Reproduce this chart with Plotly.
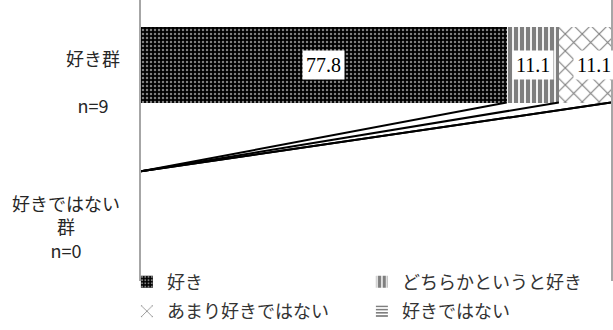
import plotly.graph_objects as go

# data
groups = ["好き群", "好きではない群"]
group_labels = ["好き群<br><br>n=9", "好きではない<br>群<br>n=0"]
series = ["好き", "どちらかというと好き", "あまり好きではない", "好きではない"]
like = [77.8, 0]
rather_like = [11.1, 0]
not_much = [11.1, 0]
dislike = [0, 0]

values = [like, rather_like, not_much, dislike]
patterns = [
    dict(shape=".", fgcolor="white", bgcolor="black", size=4, solidity=0.3),
    dict(shape="|", fgcolor="black", bgcolor="white", size=6, solidity=0.7),
    dict(shape="x", fgcolor="black", bgcolor="white", size=12, solidity=0.18),
    dict(shape="-", fgcolor="black", bgcolor="white", size=4, solidity=0.5),
]
legend_ids = ["legend", "legend", "legend2", "legend2"]

pos = list(range(len(groups)))
bar_w = 0.524

fig = go.Figure()

for name, vals, pat, lg in zip(series, values, patterns, legend_ids):
    fig.add_trace(go.Bar(
        y=pos, x=vals, name=name, orientation="h", width=bar_w,
        marker=dict(color="white", pattern=pat, line=dict(width=0)),
        legend=lg, hoverinfo="x+name",
    ))

# series lines between the two bars
cum = [[0] * len(series) for _ in groups]
for g in range(len(groups)):
    s = 0
    for i in range(len(series)):
        s += values[i][g]
        cum[g][i] = s
for i in range(len(series)):
    fig.add_trace(go.Scatter(
        x=[cum[0][i], cum[1][i]], y=[pos[0] + bar_w / 2, pos[1] - bar_w / 2],
        mode="lines", line=dict(color="black", width=2),
        showlegend=False, hoverinfo="skip",
    ))

# data labels with white boxes
for i in range(3):
    v = values[i][0]
    start = cum[0][i] - v
    fig.add_annotation(
        x=start + v / 2, y=pos[0], text=f"{v:.1f}", showarrow=False,
        xshift=9 if i == 2 else 0,
        font=dict(family="Liberation Serif", size=20, color="black"),
        bgcolor="white", borderpad=3,
    )

# category labels
for p, lab in zip(pos, group_labels):
    fig.add_annotation(
        x=0, xref="paper", y=p, yshift=-17, text=lab, showarrow=False,
        xanchor="right", xshift=-19, align="center",
        font=dict(family="Noto Sans CJK JP", size=18, color="#262626"),
    )

legend_style = dict(
    orientation="h", xanchor="left", yanchor="middle", traceorder="normal",
    entrywidth=190, entrywidthmode="pixels",
    font=dict(family="Noto Sans CJK JP", size=18, color="#333333"),
    bgcolor="rgba(0,0,0,0)", itemwidth=30,
)

fig.update_layout(
    width=613, height=330,
    margin=dict(l=141, r=2, t=0, b=48),
    barmode="stack",
    plot_bgcolor="white", paper_bgcolor="white",
    xaxis=dict(range=[0, 100], showgrid=False, zeroline=False,
               showticklabels=False, ticks=""),
    yaxis=dict(range=[1.497, -0.448], showgrid=False, zeroline=False,
               showticklabels=False, ticks="",
               showline=True, linecolor="#a6a6a6", linewidth=2, mirror=True),
    legend=dict(x=-0.03, y=-0.0001, **legend_style),
    legend2=dict(x=-0.03, y=-0.108, **legend_style),
)

fig.write_html("out.html", config={"displayModeBar": False},
               post_script="document.body.style.margin='0';")
